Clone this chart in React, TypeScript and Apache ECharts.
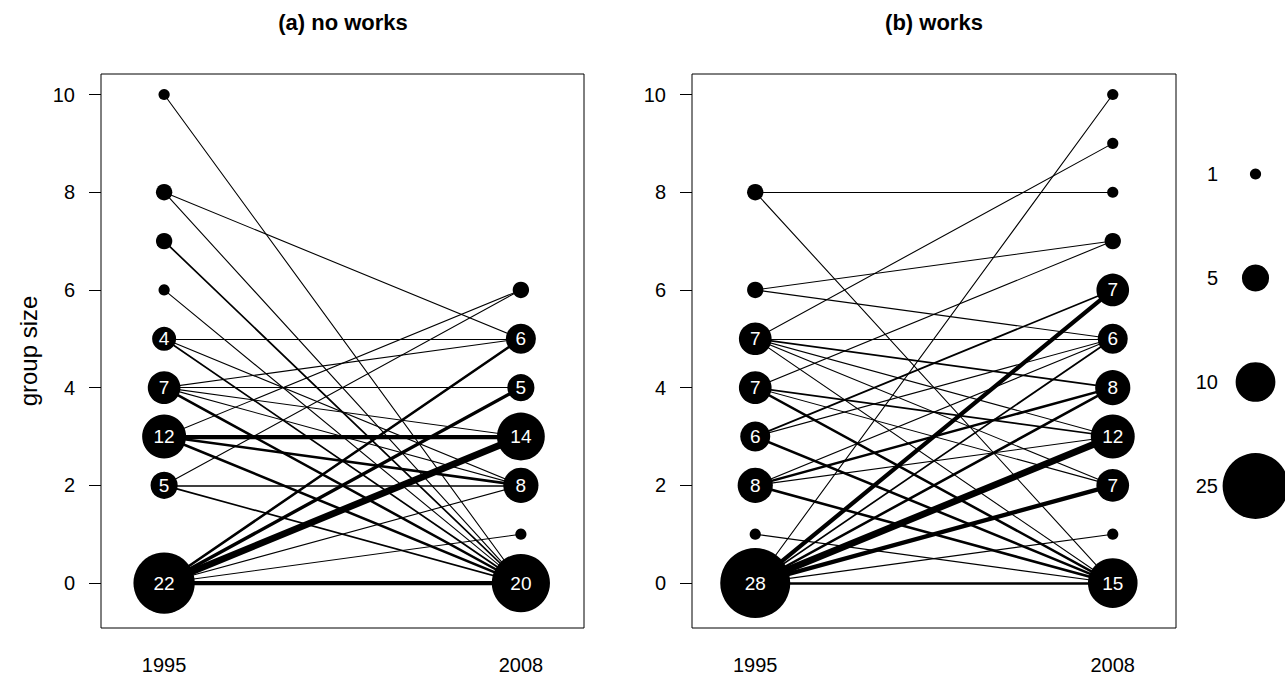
import React, { useEffect, useRef } from "react";
import * as echarts from "echarts";

const YEARS = [1995, 2008];
const Y_TICKS = [0, 2, 4, 6, 8, 10];

// panel (a) no works
const A_START_V = [10, 8, 7, 6, 5, 4, 3, 2, 0];
const A_START_N = [1, 2, 2, 1, 4, 7, 12, 5, 22];
const A_END_V = [6, 5, 4, 3, 2, 1, 0];
const A_END_N = [2, 6, 5, 14, 8, 1, 20];
const A_EDGE_FROM = [10, 8, 8, 7, 6, 5, 5, 5, 4, 4, 4, 4, 4, 3, 3, 3, 3, 2, 2, 2, 0, 0, 0, 0, 0, 0];
const A_EDGE_TO = [0, 5, 0, 0, 0, 5, 2, 0, 5, 4, 3, 2, 0, 6, 3, 2, 0, 6, 2, 0, 5, 4, 3, 2, 1, 0];
const A_EDGE_N = [1, 1, 1, 2, 1, 1, 1, 2, 1, 1, 1, 1, 3, 1, 5, 3, 3, 1, 2, 2, 3, 4, 8, 1, 1, 5];

// panel (b) works
const B_START_V = [8, 6, 5, 4, 3, 2, 1, 0];
const B_START_N = [2, 2, 7, 7, 6, 8, 1, 28];
const B_END_V = [10, 9, 8, 7, 6, 5, 4, 3, 2, 1, 0];
const B_END_N = [1, 1, 1, 2, 7, 6, 8, 12, 7, 1, 15];
const B_EDGE_FROM = [8, 8, 6, 6, 5, 5, 5, 5, 5, 5, 4, 4, 4, 4, 3, 3, 3, 2, 2, 2, 2, 1, 0, 0, 0, 0, 0, 0, 0, 0];
const B_EDGE_TO = [8, 0, 7, 5, 9, 5, 4, 3, 2, 0, 7, 3, 2, 0, 6, 5, 0, 5, 4, 3, 0, 0, 10, 6, 5, 4, 3, 2, 1, 0];
const B_EDGE_N = [1, 1, 1, 1, 1, 1, 2, 1, 1, 1, 1, 2, 1, 3, 2, 1, 3, 1, 3, 1, 3, 1, 1, 5, 2, 3, 8, 5, 1, 3];

// legend
const LEGEND_N = [1, 5, 10, 25];

const FONT = "'Liberation Sans', Arial, Helvetica, sans-serif";

const symSize = (n: number) => 2 * 5.6 * Math.pow(n, 0.55);
const lineW = (n: number) => (n <= 1 ? 1.1 : n * 0.85);

function edgesData(from: number[], to: number[], cnt: number[]) {
  const idx = from.map((_, i) => i).sort((a, b) => cnt[a] - cnt[b]);
  return idx.map((i) => ({
    coords: [
      [YEARS[0], from[i]],
      [YEARS[1], to[i]],
    ],
    lineStyle: { width: lineW(cnt[i]) },
  }));
}

function nodeData(year: number, vals: number[], cnt: number[]) {
  return vals.map((v, i) => ({
    value: [year, v],
    symbolSize: symSize(cnt[i]),
    label: {
      show: cnt[i] >= 3,
      formatter: String(cnt[i]),
    },
  }));
}

export default function App() {
  const ref = useRef<HTMLDivElement>(null);

  useEffect(() => {
    if (!ref.current) return;
    const chart = echarts.init(ref.current, undefined, { renderer: "svg" });

    const grids = [
      { left: 101, top: 74, width: 483, height: 554 },
      { left: 692, top: 74, width: 484, height: 554 },
      { left: 1226, top: 122, width: 60, height: 416 },
    ];

    const xAxisFor = (gi: number) => ({
      gridIndex: gi,
      type: "value",
      min: 1992.7,
      max: 2010.3,
      axisLine: { show: false },
      splitLine: { show: false },
      axisTick: {
        show: true,
        inside: false,
        length: 12,
        customValues: YEARS,
        lineStyle: { color: "#000", width: 1 },
      },
      axisLabel: {
        customValues: YEARS,
        formatter: (v: number) => String(v),
        margin: 27,
        fontSize: 20,
        color: "#000",
        fontFamily: FONT,
      },
    });

    const yAxisFor = (gi: number) => ({
      gridIndex: gi,
      type: "value",
      min: -0.92,
      max: 10.42,
      axisLine: { show: false },
      splitLine: { show: false },
      axisTick: {
        show: true,
        inside: false,
        length: 12,
        customValues: Y_TICKS,
        lineStyle: { color: "#000", width: 1 },
      },
      axisLabel: {
        customValues: Y_TICKS,
        formatter: (v: number) => String(v),
        margin: 26,
        fontSize: 20,
        color: "#000",
        fontFamily: FONT,
      },
    });

    const nodeLabel = {
      position: "inside",
      color: "#fff",
      fontSize: 19,
      fontFamily: FONT,
    };

    const option: any = {
      animation: false,
      backgroundColor: "#fff",
      grid: grids.map((g, i) => ({
        ...g,
        show: i < 2,
        borderColor: "#000",
        borderWidth: 1,
        backgroundColor: "transparent",
      })),
      xAxis: [
        xAxisFor(0),
        xAxisFor(1),
        {
          gridIndex: 2,
          type: "value",
          min: 0,
          max: 1,
          show: false,
        },
      ],
      yAxis: [
        yAxisFor(0),
        yAxisFor(1),
        {
          gridIndex: 2,
          type: "category",
          inverse: true,
          data: LEGEND_N.map(String),
          axisLine: { show: false },
          axisTick: { show: false },
          splitLine: { show: false },
          axisLabel: {
            margin: 8,
            fontSize: 20,
            color: "#000",
            fontFamily: FONT,
          },
        },
      ],
      graphic: [
        {
          type: "text",
          x: 343,
          y: 22,
          style: {
            text: "(a) no works",
            font: `bold 22px ${FONT}`,
            fill: "#000",
            textAlign: "center",
            textVerticalAlign: "middle",
          },
        },
        {
          type: "text",
          x: 934,
          y: 22,
          style: {
            text: "(b) works",
            font: `bold 22px ${FONT}`,
            fill: "#000",
            textAlign: "center",
            textVerticalAlign: "middle",
          },
        },
        {
          type: "text",
          x: 28,
          y: 351,
          rotation: Math.PI / 2,
          style: {
            text: "group size",
            font: `24px ${FONT}`,
            fill: "#000",
            textAlign: "center",
            textVerticalAlign: "middle",
          },
        },
      ],
      series: [
        {
          type: "lines",
          coordinateSystem: "cartesian2d",
          xAxisIndex: 0,
          yAxisIndex: 0,
          silent: true,
          lineStyle: { color: "#000", opacity: 1, cap: "round" },
          data: edgesData(A_EDGE_FROM, A_EDGE_TO, A_EDGE_N),
          z: 2,
        },
        {
          type: "lines",
          coordinateSystem: "cartesian2d",
          xAxisIndex: 1,
          yAxisIndex: 1,
          silent: true,
          lineStyle: { color: "#000", opacity: 1, cap: "round" },
          data: edgesData(B_EDGE_FROM, B_EDGE_TO, B_EDGE_N),
          z: 2,
        },
        {
          type: "scatter",
          xAxisIndex: 0,
          yAxisIndex: 0,
          symbol: "circle",
          itemStyle: { color: "#000", opacity: 1 },
          label: nodeLabel,
          data: [
            ...nodeData(YEARS[0], A_START_V, A_START_N),
            ...nodeData(YEARS[1], A_END_V, A_END_N),
          ],
          z: 3,
        },
        {
          type: "scatter",
          xAxisIndex: 1,
          yAxisIndex: 1,
          symbol: "circle",
          itemStyle: { color: "#000", opacity: 1 },
          label: nodeLabel,
          data: [
            ...nodeData(YEARS[0], B_START_V, B_START_N),
            ...nodeData(YEARS[1], B_END_V, B_END_N),
          ],
          z: 3,
        },
        {
          type: "scatter",
          xAxisIndex: 2,
          yAxisIndex: 2,
          symbol: "circle",
          itemStyle: { color: "#000", opacity: 1 },
          data: LEGEND_N.map((n, i) => ({
            value: [0.5, i],
            symbolSize: symSize(n),
          })),
          z: 3,
        },
      ],
    };

    chart.setOption(option);
    return () => chart.dispose();
  }, []);

  return (
    <div
      ref={ref}
      style={{
        position: "fixed",
        left: 0,
        top: 0,
        width: 1285,
        height: 678,
        background: "#fff",
      }}
    />
  );
}
